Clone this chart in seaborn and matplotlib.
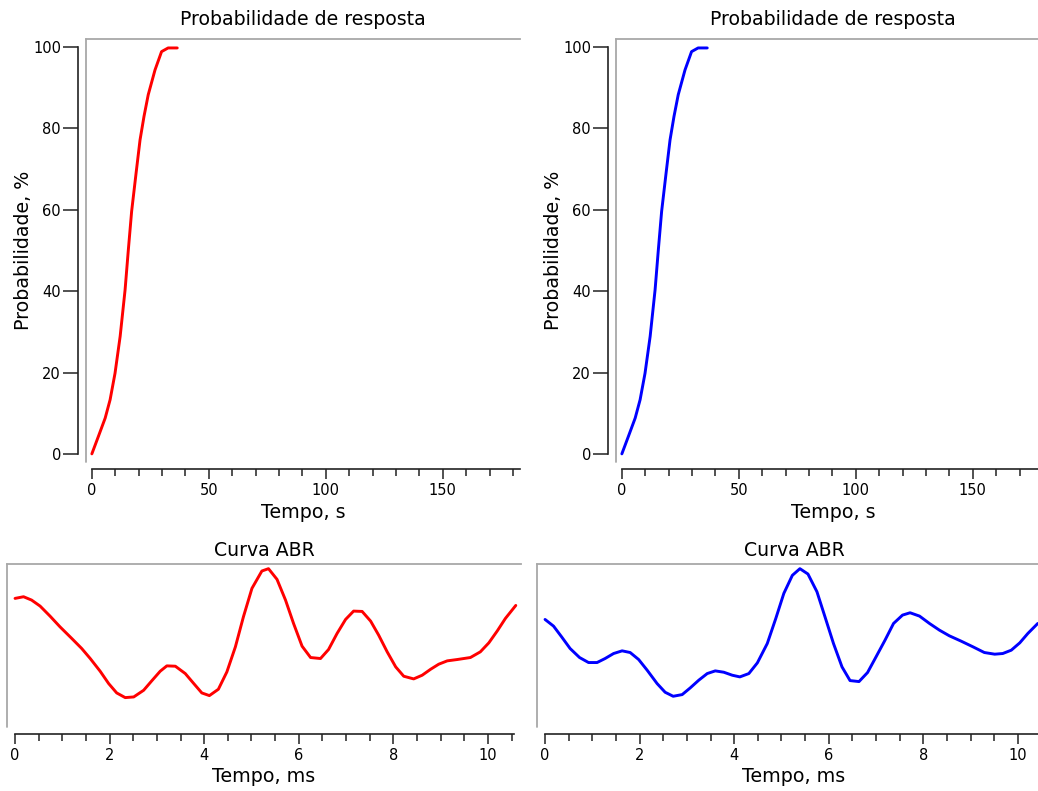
import numpy as np
import pandas as pd
import seaborn as sns
import matplotlib.pyplot as plt
from matplotlib.ticker import MultipleLocator
from matplotlib.lines import Line2D

sns.set_style("white")
plt.rcParams['font.family'] = ['DejaVu Sans']
plt.rcParams['text.color'] = 'black'
plt.rcParams['axes.labelcolor'] = 'black'
plt.rcParams['xtick.color'] = 'black'
plt.rcParams['ytick.color'] = 'black'

# probabilidade de resposta (igual nos dois lados)
tempo_s = [0.0, 2.8, 5.7, 7.8, 9.9, 12.1, 14.2, 15.6, 17.0, 18.9, 20.6, 22.3,
           24.1, 27.0, 29.8, 32.6, 36.5]
prob = [0.0, 4.3, 8.8, 13.3, 19.8, 28.9, 40.3, 50.2, 59.6, 69.0, 77.2, 83.0,
        88.3, 94.4, 98.9, 99.8, 99.8]

# curva ABR - lado esquerdo (vermelho)
tempo_abr_esq = [0.00, 0.18, 0.35, 0.53, 0.74, 0.95, 1.20, 1.41, 1.59, 1.80,
                 1.98, 2.15, 2.33, 2.51, 2.72, 2.89, 3.07, 3.21, 3.39, 3.60,
                 3.78, 3.95, 4.11, 4.30, 4.48, 4.66, 4.83, 5.01, 5.22, 5.36,
                 5.54, 5.72, 5.89, 6.07, 6.25, 6.46, 6.63, 6.81, 6.99, 7.16,
                 7.34, 7.52, 7.69, 7.87, 8.05, 8.22, 8.43, 8.61, 8.79, 8.96,
                 9.14, 9.35, 9.63, 9.84, 10.02, 10.20, 10.37, 10.59]
abr_esq = [3.85, 3.90, 3.80, 3.62, 3.32, 3.00, 2.65, 2.35, 2.05, 1.67,
           1.30, 1.02, 0.88, 0.90, 1.10, 1.38, 1.67, 1.83, 1.82, 1.60,
           1.30, 1.02, 0.94, 1.13, 1.65, 2.40, 3.30, 4.15, 4.67, 4.74,
           4.42, 3.80, 3.10, 2.42, 2.08, 2.05, 2.32, 2.80, 3.22, 3.47,
           3.46, 3.17, 2.75, 2.25, 1.80, 1.52, 1.44, 1.55, 1.73, 1.88,
           1.98, 2.02, 2.08, 2.25, 2.52, 2.88, 3.25, 3.64]

# curva ABR - lado direito (azul)
tempo_abr_dir = [0.00, 0.18, 0.35, 0.53, 0.73, 0.92, 1.10, 1.27, 1.45, 1.63,
                 1.80, 1.98, 2.16, 2.37, 2.54, 2.71, 2.90, 3.07, 3.25, 3.43,
                 3.60, 3.78, 3.96, 4.12, 4.31, 4.49, 4.70, 4.88, 5.05, 5.23,
                 5.39, 5.56, 5.75, 5.92, 6.10, 6.28, 6.45, 6.64, 6.82, 7.00,
                 7.19, 7.37, 7.56, 7.72, 7.92, 8.13, 8.34, 8.55, 8.80, 9.05,
                 9.29, 9.51, 9.68, 9.86, 10.04, 10.21, 10.42]
abr_dir = [3.22, 3.02, 2.70, 2.35, 2.08, 1.93, 1.93, 2.05, 2.20, 2.28,
           2.23, 2.02, 1.70, 1.30, 1.04, 0.92, 0.97, 1.17, 1.40, 1.60,
           1.68, 1.64, 1.55, 1.50, 1.60, 1.92, 2.50, 3.25, 4.00, 4.54,
           4.74, 4.58, 4.05, 3.30, 2.50, 1.80, 1.39, 1.36, 1.63, 2.10,
           2.60, 3.10, 3.35, 3.42, 3.32, 3.10, 2.90, 2.73, 2.57, 2.40,
           2.23, 2.18, 2.20, 2.30, 2.52, 2.80, 3.10]

W, H = 1038, 791
fig = plt.figure(figsize=(W / 100, H / 100), dpi=100)
cinza = '#a8a8a8'


def eixos(x0, y0, x1, y1):
    return fig.add_axes([x0 / W, 1 - y1 / H, (x1 - x0) / W, (y1 - y0) / H])


def moldura(ax, xfim, com_y):
    ax.spines['right'].set_visible(False)
    ax.spines['top'].set_color(cinza)
    ax.spines['top'].set_linewidth(1.3)
    ax.add_line(Line2D([0, 0], [0, 1], transform=ax.transAxes, color=cinza,
                       lw=1.3, clip_on=False))
    ax.spines['bottom'].set_color('#222222')
    ax.spines['bottom'].set_linewidth(1.2)
    ax.spines['bottom'].set_position(('outward', 5))
    ax.spines['bottom'].set_bounds(0, xfim)
    ax.tick_params(axis='x', which='both', bottom=True, direction='out',
                   color='#222222', width=1.1)
    ax.tick_params(axis='x', which='major', length=7, labelsize=10.5, pad=3)
    ax.tick_params(axis='x', which='minor', length=5)
    if com_y:
        ax.spines['left'].set_color('#222222')
        ax.spines['left'].set_linewidth(1.2)
        ax.spines['left'].set_position(('outward', 6))
        ax.spines['left'].set_bounds(0, 100)
        ax.tick_params(axis='y', left=True, direction='out', length=11,
                       width=1.1, color='#222222', labelsize=10.5, pad=1)
    else:
        ax.spines['left'].set_visible(False)
        ax.tick_params(axis='y', left=False, labelleft=False)


for dx, cor in [(0, 'red'), (530, 'blue')]:
    ax = eixos(86 + dx, 39, 520 + dx, 462)
    sns.lineplot(x=tempo_s, y=prob, color=cor, linewidth=2.1, ax=ax)
    ax.set_xlim(-2.5, 183)
    ax.set_ylim(-2, 102)
    ax.xaxis.set_major_locator(MultipleLocator(50))
    ax.xaxis.set_minor_locator(MultipleLocator(10))
    ax.yaxis.set_major_locator(MultipleLocator(20))
    moldura(ax, 183, True)
    ax.set_title('Probabilidade de resposta', fontsize=13.6, pad=10)
    ax.set_xlabel('Tempo, s', fontsize=13.7, labelpad=4)
    ax.set_ylabel('Probabilidade, %', fontsize=13.7, labelpad=0)

for dx, cor, tx, ty in [(0, 'red', tempo_abr_esq, abr_esq),
                        (530, 'blue', tempo_abr_dir, abr_dir)]:
    ax = eixos(7 + dx, 564, 521 + dx, 727)
    sns.lineplot(x=tx, y=ty, color=cor, linewidth=2.1, ax=ax)
    ax.set_xlim(-0.17, 10.7)
    ax.set_ylim(0, 4.88)
    ax.xaxis.set_major_locator(MultipleLocator(2))
    ax.xaxis.set_minor_locator(MultipleLocator(0.5))
    moldura(ax, 10.55, False)
    ax.set_title('Curva ABR', fontsize=13.6, pad=6)
    ax.set_xlabel('Tempo, ms', fontsize=13.7, labelpad=3)
    ax.set_ylabel('')

fig.savefig('out.png', dpi=100)
